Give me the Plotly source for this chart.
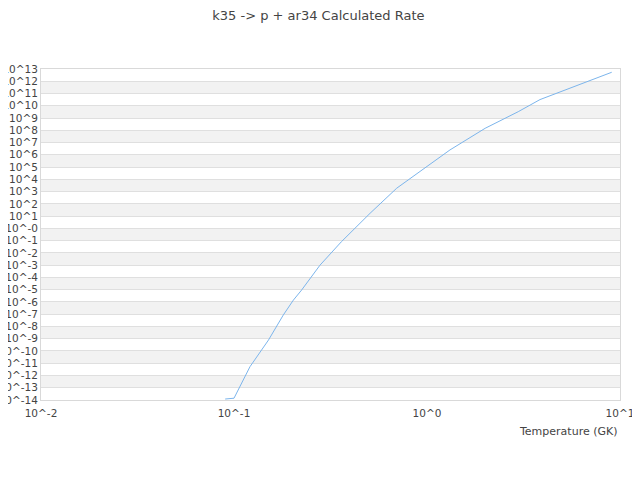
import plotly.graph_objects as go

# temperature (GK) and calculated rate
temperature = [0.09, 0.1, 0.121, 0.151, 0.18, 0.203, 0.224, 0.279, 0.36, 0.415,
               0.507, 0.697, 0.996, 1.315, 2.0, 2.97, 3.85, 5.73, 7.27, 9.06]
rate = [1.2e-14, 1.4e-14, 5.2e-12, 7.9e-10, 8.5e-8, 1.4e-6, 9.3e-6, 1.0e-3, 8.1e-2, 0.74,
        17, 1.9e3, 1.07e5, 2.5e6, 1.45e8, 3.3e9, 3.2e10, 3.6e11, 1.5e12, 5.4e12]

y_exponents = list(range(-14, 14))
y_ticktext = ["10^-0" if k == 0 else f"10^{k}" for k in y_exponents]
x_exponents = [-2, -1, 0, 1]
x_ticktext = [f"10^{k}" for k in x_exponents]

font = "DejaVu Sans"

fig = go.Figure(
    data=[
        go.Scatter(x=temperature, y=rate, mode='lines',
                   line={'color': '#7cb5ec', 'width': 1}, showlegend=False)
    ]
)

# alternating bands between decades
n_bands = len(y_exponents) - 1
shapes = []
for i in range(n_bands):
    if i % 2 == 1:
        shapes.append(dict(type='rect', xref='paper', yref='paper', x0=0, x1=1,
                           y0=i / n_bands, y1=(i + 1) / n_bands,
                           fillcolor='#f2f2f2', line={'width': 0}, layer='below'))

# page body adds 8px, margins compensate for it
fig.update_layout(
    width=640, height=480,
    margin=dict(l=33, r=28, t=61, b=88, autoexpand=False),
    paper_bgcolor='white', plot_bgcolor='rgba(0,0,0,0)',
    shapes=shapes,
    title=dict(text="k35 -> p + ar34 Calculated Rate", x=0.485, xanchor='center',
               yref='container', y=0.985, yanchor='middle',
               font=dict(family=font, size=13, color='#444')),
    xaxis=dict(type='log', range=[-2, 1], tickvals=[10 ** k for k in x_exponents],
               ticktext=x_ticktext, showgrid=False, zeroline=False, automargin=False,
               showline=True, mirror=True, linecolor='#d9d9d9', linewidth=1,
               ticks='', ticklabelstandoff=3,
               tickfont=dict(family=font, size=10.5, color='#444')),
    yaxis=dict(type='log', range=[-14, 13], tickvals=[10.0 ** k for k in y_exponents],
               ticktext=y_ticktext, showgrid=True, gridcolor='#dfdfdf', gridwidth=1,
               zeroline=False, automargin=False,
               showline=True, mirror=True, linecolor='#d9d9d9', linewidth=1,
               ticks='', tickfont=dict(family=font, size=10.5, color='#444')),
    annotations=[
        dict(text="Temperature (GK)", xref='paper', yref='paper', x=1, y=-0.096,
             xanchor='right', yanchor='middle', showarrow=False,
             font=dict(family=font, size=11, color='#444'))
    ],
)

fig.write_html("out.html")
